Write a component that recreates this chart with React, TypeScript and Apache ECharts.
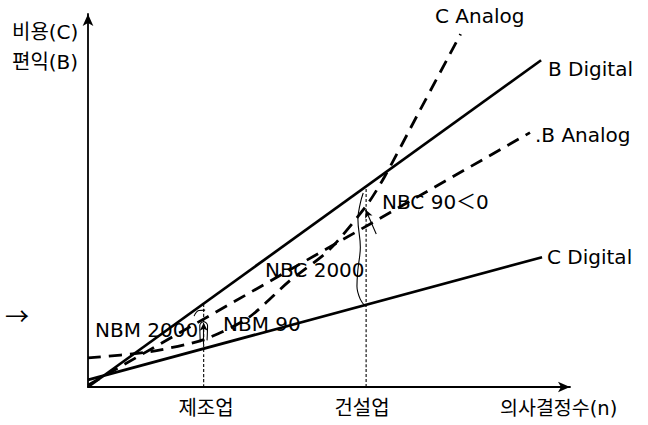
import React, { useEffect, useRef } from "react";
import * as echarts from "echarts";

const FONT = "'DejaVu Sans', 'Noto Sans CJK KR', sans-serif";
const CJK = "'Noto Sans CJK KR', sans-serif";

// data space: x 0..100 (decision count), y 0..100 (cost / benefit)
const xRange = [0, 100];
const yRange = [0, 100];

const bDigital = [[0, 0], [94, 87.6]];
const cDigital = [[0, 1.9], [94.2, 34.8]];
const bAnalog = [[0, 0.5], [91.7, 68.2]];
const cAnalog = [
  [0, 7.8], [12.5, 9.4], [24, 12.7], [33.3, 18.6], [41.7, 28.3],
  [50, 36.7], [57.7, 48.5], [61.5, 56.3], [68.75, 73.9], [77.3, 94.6],
];

const industryX = [24, 57.7];
const industryNames = ["제조업", "건설업"];
const dropTopY = [22.4, 53.8];

// annotation brackets
const nbc2000Bracket = [
  [57.1, 52.0], [56.5, 49.3], [56.0, 45.0], [56.5, 37.5], [56.0, 31.5],
  [55.8, 27.0], [56.5, 23.5], [57.6, 21.6],
];
const nbm90Loop = [
  [23.3, 12.0], [23.2, 16.5], [24.0, 17.5], [24.8, 16.5], [24.7, 12.5],
];
const nbm2000Arc = [[22.0, 19.0], [23.0, 20.5], [24.3, 20.6]];

const textLabels = [
  { text: "비용(C)", x: 12, y: 32, size: 20 },
  { text: "편익(B)", x: 12, y: 62, size: 20 },
  { text: "의사결정수(n)", x: 500, y: 408, size: 19.5 },
  { text: "C Analog", x: 435, y: 16, size: 20 },
  { text: "B Digital", x: 548, y: 69, size: 20 },
  { text: ".B Analog", x: 535, y: 135, size: 20 },
  { text: "C Digital", x: 547, y: 257, size: 20 },
  { text: "NBC 90＜0", x: 382, y: 202, size: 20 },
  { text: "NBC 2000", x: 265, y: 270, size: 20 },
  { text: "NBM 2000", x: 95, y: 330, size: 20 },
  { text: "NBM 90", x: 223, y: 324, size: 20 },
];

const solid = (name: string, data: number[][]) => ({
  name,
  type: "line",
  data,
  symbol: "none",
  lineStyle: { color: "#000", width: 2.7, type: "solid" },
  z: 5,
});

const dashed = (name: string, data: number[][], smooth = false) => ({
  name,
  type: "line",
  data,
  smooth: smooth ? 0.25 : false,
  symbol: "none",
  lineStyle: { color: "#000", width: 2.8, type: [13, 8] },
  z: 5,
});

const thin = (name: string, data: number[][], type: any = "solid") => ({
  name,
  type: "line",
  data,
  smooth: 0.4,
  symbol: "none",
  lineStyle: { color: "#000", width: 1.1, type },
  z: 4,
});

export default function App() {
  const ref = useRef<HTMLDivElement>(null);
  useEffect(() => {
    if (!ref.current) return;
    const chart = echarts.init(ref.current, undefined, { renderer: "svg" });
    const axisCommon = {
      type: "value",
      axisTick: { show: false },
      axisLabel: { show: false },
      splitLine: { show: false },
      axisLine: {
        show: true,
        onZero: false,
        symbol: ["none", "arrow"],
        symbolSize: [8, 12],
        lineStyle: { color: "#000", width: 1.8 },
      },
    };
    const industryLabels = industryNames.map((n, i) => ({
      type: "text",
      x: i === 0 ? 206 : 362,
      y: 408,
      style: {
        text: n,
        font: `20px ${FONT}`,
        fill: "#000",
        align: "center",
        verticalAlign: "middle",
      },
    }));
    chart.setOption({
      animation: false,
      backgroundColor: "#fff",
      grid: { left: 88, top: 14, right: 78, bottom: 38 },
      xAxis: { ...axisCommon, min: xRange[0], max: xRange[1] },
      yAxis: { ...axisCommon, min: yRange[0], max: yRange[1] },
      series: [
        solid("B Digital", bDigital),
        solid("C Digital", cDigital),
        dashed("B Analog", bAnalog),
        dashed("C Analog", cAnalog, true),
        thin("drop1", [[industryX[0], 0], [industryX[0], dropTopY[0]]], [3, 2]),
        thin("drop2", [[industryX[1], 0], [industryX[1], dropTopY[1]]], [3, 2]),
        thin("NBC 2000 bracket", nbc2000Bracket),
        thin("NBM 90 loop", nbm90Loop),
        thin("NBM 2000 arc", nbm2000Arc),
        {
          name: "arrows",
          type: "line",
          data: [],
          markLine: {
            silent: true,
            symbol: ["none", "arrow"],
            symbolSize: [6, 8],
            label: { show: false },
            lineStyle: { color: "#000", width: 1.1, type: "solid", curveness: 0.3 },
            data: [
              [{ coord: [59.8, 41.0] }, { coord: [57.6, 47.5] }],
              [{ coord: [24.0, 11.5] }, { coord: [24.0, 17.2] }],
            ],
          },
        },
      ],
      graphic: [
        ...textLabels.map((t) => ({
          type: "text",
          x: t.x,
          y: t.y,
          style: {
            text: t.text,
            font: `${t.size}px ${FONT}`,
            fill: "#000",
            align: "left",
            verticalAlign: "middle",
          },
        })),
        {
          type: "text",
          x: 5,
          y: 314,
          style: {
            text: "→",
            font: `24px ${CJK}`,
            fill: "#000",
            align: "left",
            verticalAlign: "middle",
          },
        },
        ...industryLabels,
      ],
    });
    return () => chart.dispose();
  }, []);
  return (
    <div
      ref={ref}
      style={{ position: "fixed", left: 0, top: 0, width: 648, height: 425, background: "#fff" }}
    />
  );
}
